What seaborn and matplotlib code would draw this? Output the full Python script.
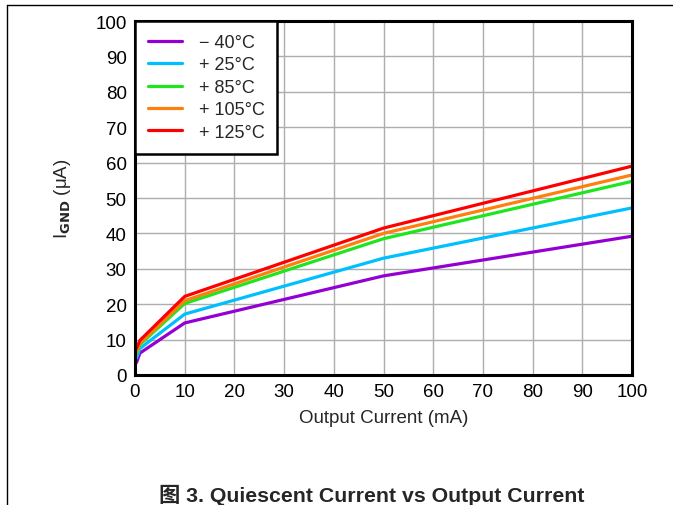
import matplotlib
matplotlib.use("Agg")
import matplotlib.pyplot as plt
import seaborn as sns
import pandas as pd
from matplotlib.lines import Line2D

# Data
output_current = [0.3, 1, 10, 50, 100]
series_labels = ["\u2212 40°C", "+ 25°C", "+ 85°C", "+ 105°C", "+ 125°C"]
i_m40 = [3.5, 6.2, 14.7, 28.0, 39.2]
i_25 = [4.8, 7.5, 17.2, 33.0, 47.2]
i_85 = [6.0, 8.6, 20.2, 38.5, 54.7]
i_105 = [6.5, 9.0, 21.0, 40.0, 56.5]
i_125 = [7.5, 9.8, 22.2, 41.5, 59.0]
x_ticks = [0, 10, 20, 30, 40, 50, 60, 70, 80, 90, 100]
y_ticks = [0, 10, 20, 30, 40, 50, 60, 70, 80, 90, 100]
colors = ["#9400D3", "#00BFFF", "#1EE61E", "#FF7F0E", "#FF0000"]

rows = []
for lab, vals in zip(series_labels, [i_m40, i_25, i_85, i_105, i_125]):
    for x, y in zip(output_current, vals):
        rows.append({"x": x, "y": y, "T": lab})
df = pd.DataFrame(rows)

sns.set_style("white")
plt.rcParams["font.family"] = ["Liberation Sans", "Noto Sans CJK SC", "DejaVu Sans"]

fig = plt.figure(figsize=(6.73, 5.06), dpi=100)
ax = fig.add_axes([135/673, 1-376/506, (632-135)/673, (376-22)/506])

sns.lineplot(data=df, x="x", y="y", hue="T", palette=colors, hue_order=series_labels,
             linewidth=2.3, ax=ax, legend=True, sort=False)

ax.set_xlim(0, 100)
ax.set_ylim(0, 100)
ax.set_xticks(x_ticks)
ax.set_yticks(y_ticks)
ax.tick_params(axis="both", length=0, labelsize=13.5, pad=6, colors="black")
ax.grid(True, color="#ADADAD", linewidth=1.0)
ax.set_axisbelow(True)
for s in ax.spines.values():
    s.set_visible(True)
    s.set_color("black")
    s.set_linewidth(2.2)

ax.set_xlabel("Output Current (mA)", fontsize=13.5, labelpad=6)
ax.set_ylabel(r"I$_{\mathbf{GND}}$ (μA)", fontsize=13.5, labelpad=16)

leg = ax.legend(loc="upper left", borderaxespad=0, fontsize=13, frameon=True,
                fancybox=False, edgecolor="black", handlelength=1.9,
                handletextpad=0.9, labelspacing=0.3, borderpad=0.72)
leg.get_frame().set_linewidth(1.8)
leg.get_frame().set_alpha(1)
for h in leg.get_lines():
    h.set_linewidth(2.3)

# page frame lines
fig.add_artist(Line2D([7/673, 1], [1-6/506, 1-6/506], color="black", linewidth=1.0))
fig.add_artist(Line2D([7/673, 7/673], [0, 1-6/506], color="black", linewidth=1.0))

fig.text(372/673, 1-495/506, "图 3. Quiescent Current vs Output Current",
         ha="center", va="center", fontsize=15.3, fontweight="bold")

fig.savefig("out.png", dpi=100)
